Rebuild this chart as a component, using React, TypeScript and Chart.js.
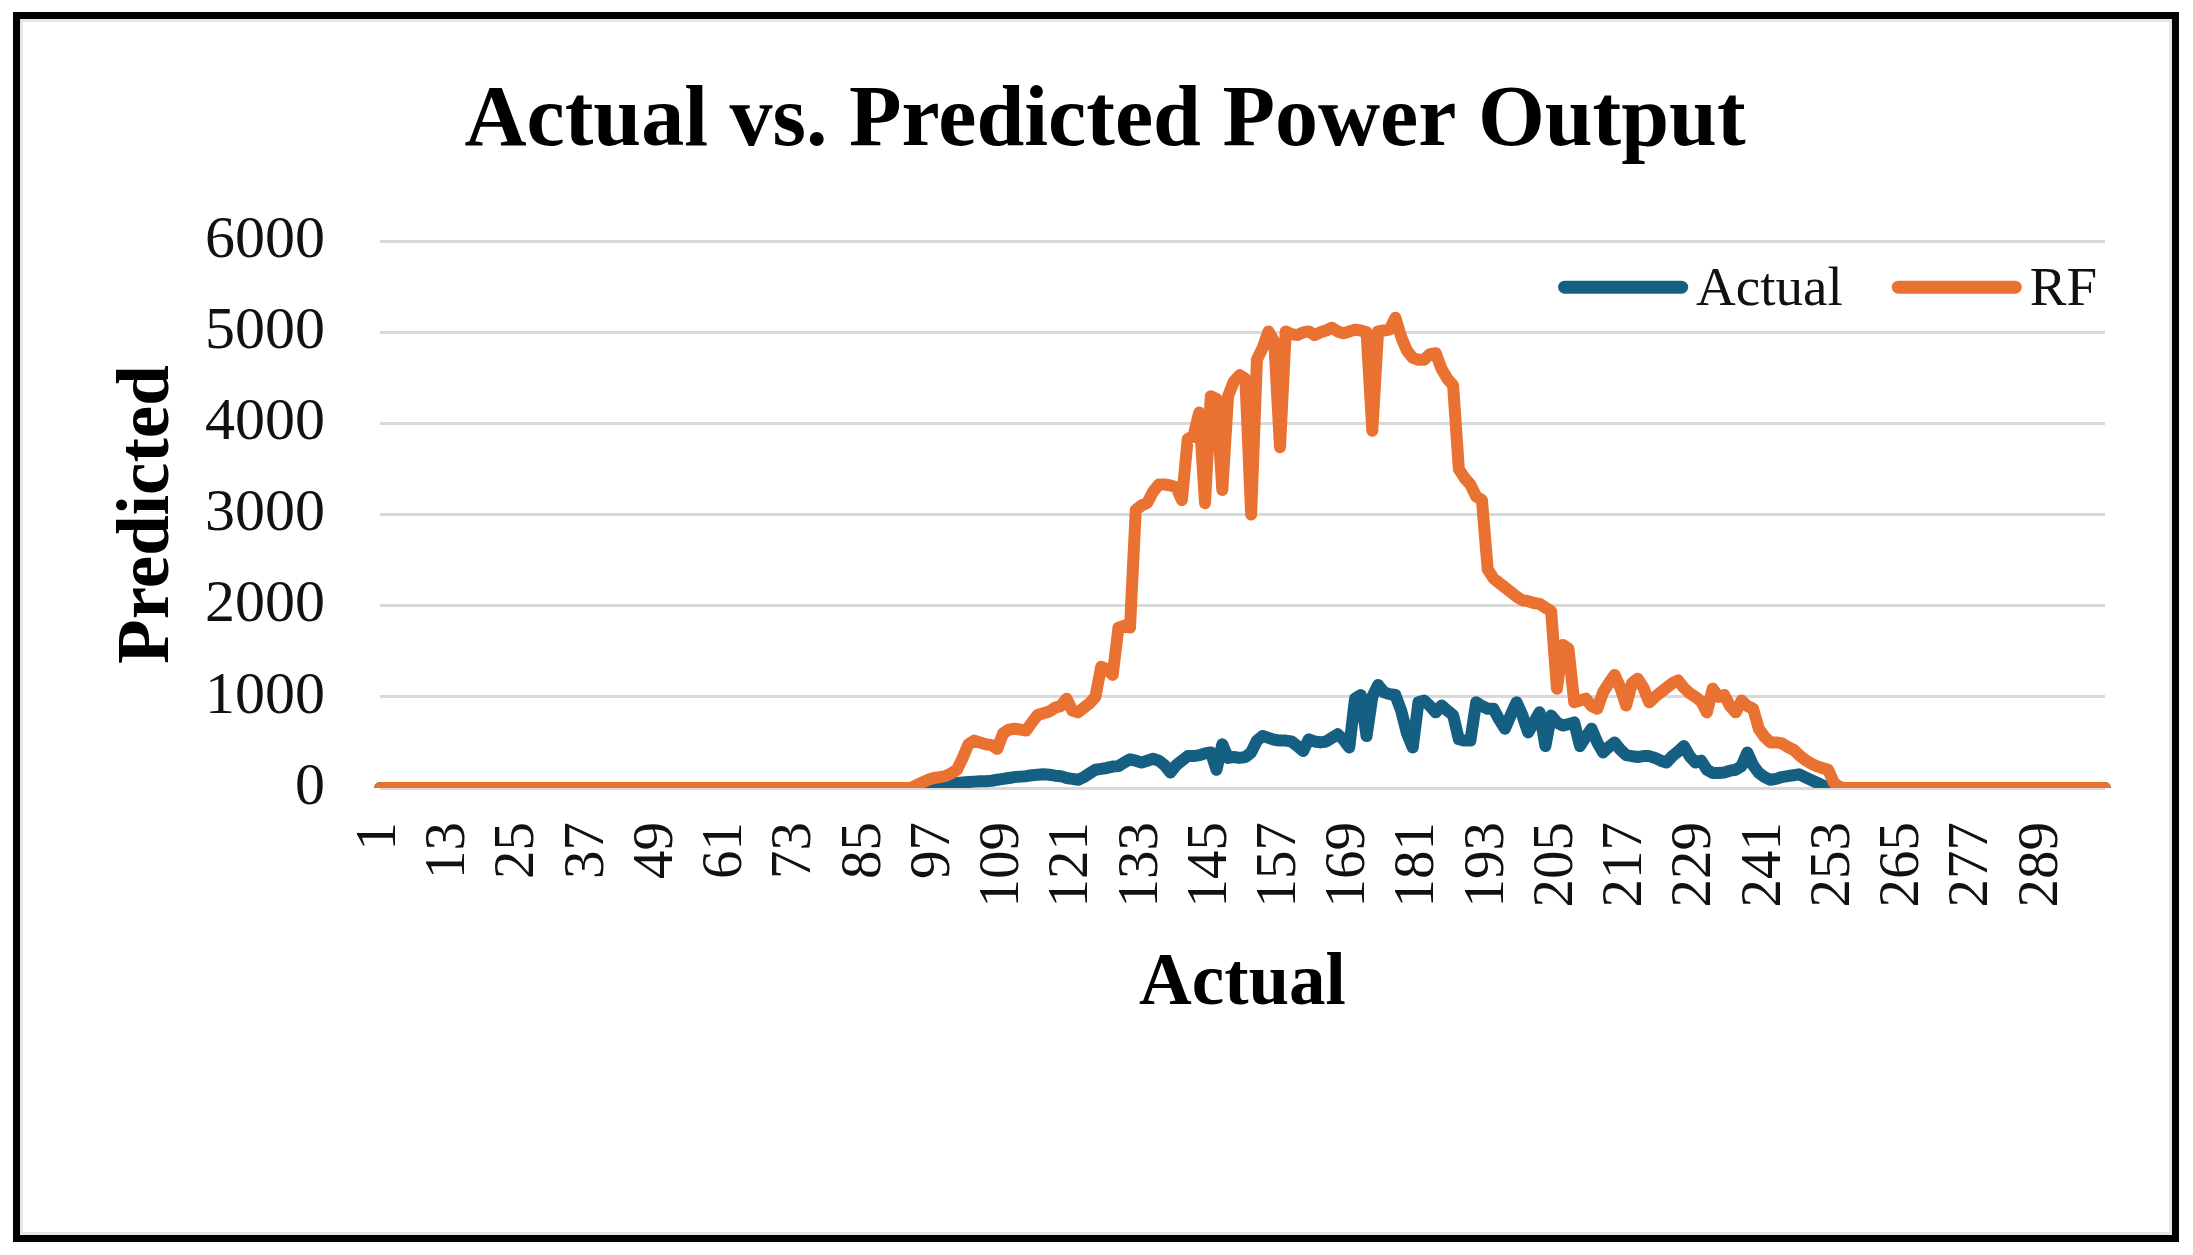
import { useEffect, useRef } from 'react';
import { Chart, registerables } from 'chart.js';

Chart.register(...registerables);

const SERIF = "'Liberation Serif', 'Times New Roman', serif";

// x categories 1..300 (time index)
const categories: string[] = Array.from({ length: 300 }, (_, i) => String(i + 1));
const xTickLabels = ['1', '13', '25', '37', '49', '61', '73', '85', '97', '109', '121', '133', '145', '157', '169', '181', '193', '205', '217', '229', '241', '253', '265', '277', '289'];
const yTickValues = [0, 1000, 2000, 3000, 4000, 5000, 6000];

const chartTitle = 'Actual vs. Predicted Power Output';
const xAxisTitle = 'Actual';
const yAxisTitle = 'Predicted';
const seriesNames = ['Actual', 'RF'];

const actualValues = [
  // 1–20
  0, 0, 0, 0, 0, 0, 0, 0, 0, 0, 0, 0, 0, 0, 0, 0, 0, 0, 0, 0,
  // 21–40
  0, 0, 0, 0, 0, 0, 0, 0, 0, 0, 0, 0, 0, 0, 0, 0, 0, 0, 0, 0,
  // 41–60
  0, 0, 0, 0, 0, 0, 0, 0, 0, 0, 0, 0, 0, 0, 0, 0, 0, 0, 0, 0,
  // 61–80
  0, 0, 0, 0, 0, 0, 0, 0, 0, 0, 0, 0, 0, 0, 0, 0, 0, 0, 0, 0,
  // 81–94
  0, 0, 0, 0, 0, 0, 0, 0, 0, 0, 0, 0, 0, 0,
  // 95–104
  10, 20, 30, 40, 45, 50, 55, 60, 65, 70,
  // 105–114
  75, 75, 80, 90, 100, 110, 120, 125, 130, 140,
  // 115–124
  145, 150, 145, 135, 130, 110, 100, 90, 120, 160,
  // 125–134
  200, 210, 220, 235, 240, 280, 315, 300, 280, 300,
  // 135–144
  320, 300, 250, 170, 250, 300, 350, 350, 360, 380,
  // 145–154
  390, 200, 480, 330, 340, 330, 340, 390, 520, 570,
  // 155–164
  550, 530, 520, 520, 510, 460, 405, 535, 510, 500,
  // 165–174
  510, 550, 590, 530, 445, 980, 1020, 570, 1000, 1130,
  // 175–184
  1050, 1030, 1020, 850, 600, 445, 940, 960, 900, 830,
  // 185–194
  905, 850, 800, 535, 520, 520, 940, 900, 870, 870,
  // 195–204
  750, 650, 800, 940, 800, 610, 720, 830, 460, 795,
  // 205–214
  720, 685, 700, 720, 460, 560, 650, 500, 390, 450,
  // 215–224
  500, 420, 360, 350, 340, 350, 350, 330, 300, 280,
  // 225–234
  350, 400, 460, 350, 280, 300, 200, 165, 165, 170,
  // 235–244
  190, 200, 240, 390, 250, 165, 120, 90, 100, 120,
  // 245–252
  130, 140, 150, 120, 90, 60, 30, 0,
  // 253–272
  0, 0, 0, 0, 0, 0, 0, 0, 0, 0, 0, 0, 0, 0, 0, 0, 0, 0, 0, 0,
  // 273–292
  0, 0, 0, 0, 0, 0, 0, 0, 0, 0, 0, 0, 0, 0, 0, 0, 0, 0, 0, 0,
  // 293–300
  0, 0, 0, 0, 0, 0, 0, 0,
];

const rfValues = [
  // 1–20
  0, 0, 0, 0, 0, 0, 0, 0, 0, 0, 0, 0, 0, 0, 0, 0, 0, 0, 0, 0,
  // 21–40
  0, 0, 0, 0, 0, 0, 0, 0, 0, 0, 0, 0, 0, 0, 0, 0, 0, 0, 0, 0,
  // 41–60
  0, 0, 0, 0, 0, 0, 0, 0, 0, 0, 0, 0, 0, 0, 0, 0, 0, 0, 0, 0,
  // 61–80
  0, 0, 0, 0, 0, 0, 0, 0, 0, 0, 0, 0, 0, 0, 0, 0, 0, 0, 0, 0,
  // 81–93
  0, 0, 0, 0, 0, 0, 0, 0, 0, 0, 0, 0, 0,
  // 94–103
  30, 60, 90, 110, 120, 130, 160, 200, 330, 480,
  // 104–113
  520, 500, 480, 470, 430, 600, 640, 650, 640, 630,
  // 114–123
  720, 800, 820, 840, 880, 900, 980, 850, 830, 880,
  // 124–133
  930, 1000, 1330, 1300, 1240, 1760, 1780, 1760, 3050, 3100,
  // 134–143
  3130, 3250, 3330, 3330, 3320, 3300, 3160, 3830, 3860, 4120,
  // 144–153
  3125, 4300, 4270, 3270, 4300, 4460, 4530, 4490, 3000, 4700,
  // 154–163
  4830, 5010, 4900, 3740, 5010, 4980, 4970, 5000, 5010, 4970,
  // 164–173
  5000, 5020, 5050, 5010, 4990, 5010, 5030, 5020, 5000, 3920,
  // 174–183
  5010, 5020, 5030, 5160, 4950, 4800, 4720, 4700, 4700, 4760,
  // 184–193
  4770, 4600, 4490, 4420, 3500, 3400, 3330, 3200, 3160, 2400,
  // 194–203
  2300, 2250, 2200, 2150, 2100, 2060, 2050, 2030, 2020, 1980,
  // 204–213
  1940, 1090, 1570, 1530, 940, 960, 980, 900, 870, 1050,
  // 214–223
  1150, 1240, 1100, 905, 1150, 1200, 1100, 940, 1000, 1050,
  // 224–233
  1100, 1150, 1180, 1100, 1040, 1000, 950, 830, 1090, 1000,
  // 234–243
  1020, 900, 830, 960, 900, 870, 650, 560, 500, 500,
  // 244–253
  490, 450, 420, 360, 310, 270, 240, 220, 200, 60,
  // 254
  10,
  // 255–274
  0, 0, 0, 0, 0, 0, 0, 0, 0, 0, 0, 0, 0, 0, 0, 0, 0, 0, 0, 0,
  // 275–294
  0, 0, 0, 0, 0, 0, 0, 0, 0, 0, 0, 0, 0, 0, 0, 0, 0, 0, 0, 0,
  // 295–300
  0, 0, 0, 0, 0, 0,
];

const insideLegend = {
  id: 'insideLegend',
  afterDatasetsDraw(chart: any) {
    const { ctx, chartArea } = chart;
    ctx.save();
    ctx.font = `55px ${SERIF}`;
    const lineLen = 130;
    const gapText = 8;
    const gapItem = 49;
    const items = chart.data.datasets.map((ds: any) => ({
      label: ds.label,
      color: ds.borderColor,
      w: ctx.measureText(ds.label).width,
    }));
    const total =
      items.reduce((s: number, it: any) => s + lineLen + gapText + it.w, 0) + gapItem * (items.length - 1);
    let x = chartArea.right - 8 - total;
    const y = chartArea.top + 46;
    items.forEach((it: any) => {
      ctx.strokeStyle = it.color;
      ctx.lineWidth = 13;
      ctx.lineCap = 'round';
      ctx.beginPath();
      ctx.moveTo(x + 6.5, y);
      ctx.lineTo(x + lineLen - 6.5, y);
      ctx.stroke();
      x += lineLen + gapText;
      ctx.fillStyle = '#111';
      ctx.textAlign = 'left';
      ctx.textBaseline = 'alphabetic';
      ctx.fillText(it.label, x, y + 18);
      x += it.w + gapItem;
    });
    ctx.restore();
  },
};

export default function App() {
  const canvasRef = useRef<HTMLCanvasElement | null>(null);

  useEffect(() => {
    const canvas = canvasRef.current;
    if (!canvas) return;
    const chart = new Chart(canvas, {
      type: 'line',
      data: {
        labels: categories,
        datasets: [
          {
            label: seriesNames[0],
            data: actualValues,
            borderColor: '#156082',
            backgroundColor: '#156082',
            borderWidth: 12,
            pointRadius: 0,
            tension: 0,
            borderJoinStyle: 'round',
            borderCapStyle: 'round',
            order: 1,
          },
          {
            label: seriesNames[1],
            data: rfValues,
            borderColor: '#E97132',
            backgroundColor: '#E97132',
            borderWidth: 12,
            pointRadius: 0,
            tension: 0,
            borderJoinStyle: 'round',
            borderCapStyle: 'round',
            order: 0,
          },
        ],
      },
      options: {
        animation: false,
        responsive: false,
        devicePixelRatio: 1,
        layout: { padding: { left: 105, right: 88, top: 71, bottom: 226 } },
        plugins: {
          legend: { display: false },
          tooltip: { enabled: false },
          title: {
            display: true,
            text: chartTitle,
            color: '#000',
            font: { family: SERIF, size: 86, weight: 'bold' },
            padding: { top: 0, bottom: 67 },
          },
        },
        scales: {
          x: {
            offset: false,
            grid: { display: false, drawTicks: false },
            border: { display: false },
            ticks: {
              autoSkip: false,
              maxRotation: 90,
              minRotation: 90,
              padding: 34,
              color: '#111',
              font: { family: SERIF, size: 57 },
              callback: (_v: any, i: number) => (xTickLabels.includes(categories[i]) ? categories[i] : ''),
            },
            title: {
              display: true,
              text: xAxisTitle,
              color: '#000',
              font: { family: SERIF, size: 73, weight: 'bold' },
              padding: 0,
            },
            afterFit: (s: any) => {
              s.height = 241;
              s.paddingLeft = 0;
              s.paddingRight = 0;
            },
          },
          y: {
            min: yTickValues[0],
            max: yTickValues[yTickValues.length - 1],
            grid: { color: '#D9D9D9', lineWidth: 3, drawTicks: false },
            border: { display: false },
            ticks: {
              stepSize: 1000,
              padding: 55,
              color: '#111',
              font: { family: SERIF, size: 60 },
              callback: (v: any) => String(v),
            },
            title: {
              display: true,
              text: yAxisTitle,
              color: '#000',
              font: { family: SERIF, size: 73, weight: 'bold' },
              padding: 0,
            },
            afterFit: (s: any) => {
              s.width = 275;
            },
          },
        },
      },
      plugins: [insideLegend],
    } as any);
    return () => chart.destroy();
  }, []);

  return (
    <div style={{ position: 'absolute', left: 0, top: 0, width: 2193, height: 1255, background: '#fff', overflow: 'hidden' }}>
      <canvas
        ref={canvasRef}
        width={2193}
        height={1255}
        style={{ position: 'absolute', left: 0, top: 0, width: 2193, height: 1255 }}
      />
      <div
        style={{
          position: 'absolute',
          left: 13,
          top: 12,
          width: 2166,
          height: 1230,
          boxSizing: 'border-box',
          border: '7px solid #000',
          boxShadow: 'inset 0 0 0 3px #e6e6e6',
          pointerEvents: 'none',
        }}
      />
    </div>
  );
}
